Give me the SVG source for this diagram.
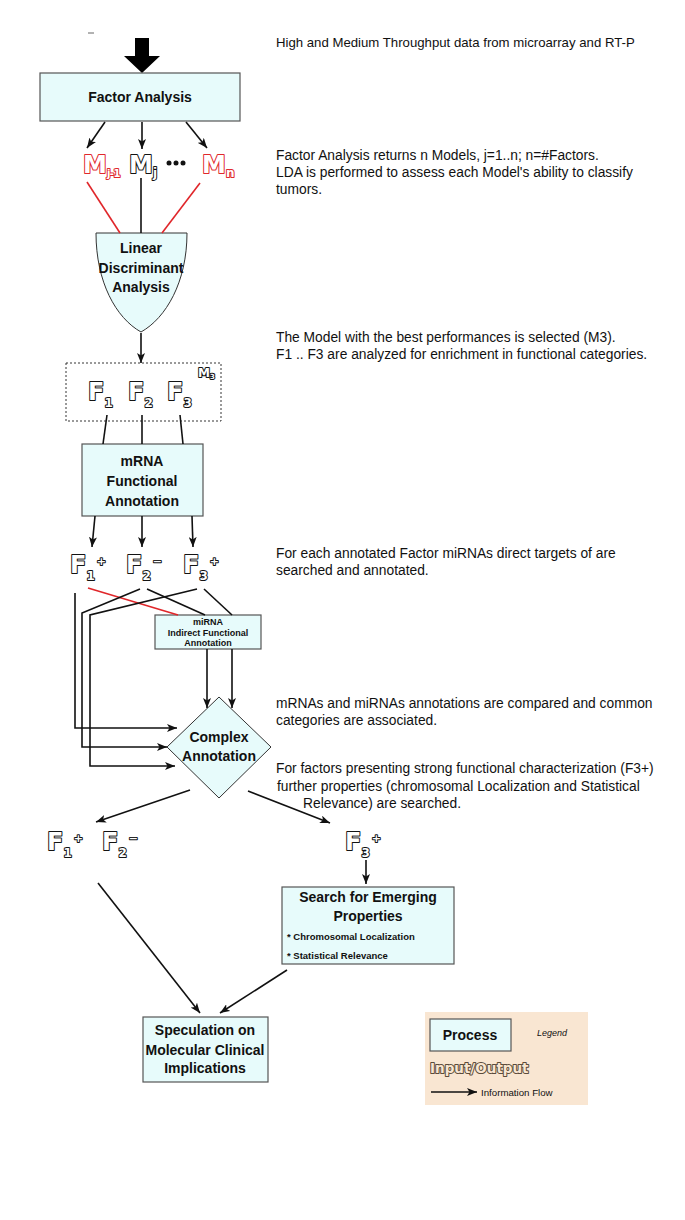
<svg xmlns="http://www.w3.org/2000/svg" width="685" height="1220" viewBox="0 0 685 1220">
<style>
.box{fill:#e7fbfb;stroke:#555;stroke-width:1.2}
.t{font-family:"Liberation Sans",Arial,sans-serif;font-weight:bold;font-size:14px;fill:#111;text-anchor:middle}
.s{font-family:"Liberation Sans",Arial,sans-serif;font-weight:bold;font-size:9px;fill:#111;text-anchor:middle}
.b{font-family:"Liberation Sans",Arial,sans-serif;font-weight:bold;font-size:9.5px;fill:#111}
.d{font-family:"Liberation Sans",Arial,sans-serif;font-size:13.8px;fill:#111}
.io{font-family:"DejaVu Sans",sans-serif;font-weight:bold;fill:#fff;stroke:#111;stroke-width:2;paint-order:stroke;stroke-linejoin:round}
.ior{font-family:"DejaVu Sans",sans-serif;font-weight:bold;fill:#fff;stroke:#e0262a;stroke-width:2;paint-order:stroke;stroke-linejoin:round}
.c{fill:none;stroke:#111;stroke-width:1.6}
.r{fill:none;stroke:#e0262a;stroke-width:1.6}
</style>
<defs>
<marker id="ah" viewBox="0 0 10 8" refX="10" refY="4" markerWidth="10" markerHeight="8" markerUnits="userSpaceOnUse" orient="auto">
<path d="M0,0 L10,4 L0,8 L2.5,4 Z" fill="#111"/>
</marker>
</defs>

<g id="notes">
<text class="d" x="276" y="47" style="font-size:13.2px">High and Medium Throughput data from microarray and RT-P</text>
<text class="d" x="276" y="160">Factor Analysis returns n Models, j=1..n; n=#Factors.</text>
<text class="d" x="276" y="177">LDA is performed to assess each Model's ability to classify</text>
<text class="d" x="276" y="194">tumors.</text>
<text class="d" x="276" y="342">The Model with the best performances is selected (M3).</text>
<text class="d" x="276" y="359">F1 .. F3 are analyzed for enrichment in functional categories.</text>
<text class="d" x="276" y="558">For each annotated Factor miRNAs direct targets of are</text>
<text class="d" x="276" y="575">searched and annotated.</text>
<text class="d" x="276" y="708">mRNAs and miRNAs annotations are compared and common</text>
<text class="d" x="276" y="725">categories are associated.</text>
<text class="d" x="276" y="773">For factors presenting strong functional characterization (F3+)</text>
<text class="d" x="277" y="791">further properties (chromosomal Localization and Statistical</text>
<text class="d" x="303" y="808">Relevance) are searched.</text>
</g>

<g id="input">
<line x1="88" y1="33" x2="94" y2="33" stroke="#666" stroke-width="1"/>
<polygon points="135,38 149,38 149,56 160,56 142,73 124,56 135,56" fill="#000"/>
</g>

<g id="factor-analysis">
<rect class="box" x="40" y="73" width="200" height="48"/>
<text class="t" x="140" y="102">Factor Analysis</text>
</g>

<g id="models" opacity="0.99">
<text class="ior" x="83" y="173" font-size="24">M<tspan font-size="10" dy="4" letter-spacing="-0.5">j-1</tspan></text>
<text class="io" x="129" y="173" font-size="24">M<tspan font-size="12" dy="4">j</tspan></text>
<circle cx="169" cy="163" r="2.5" fill="#111"/>
<circle cx="176" cy="163" r="2.5" fill="#111"/>
<circle cx="183" cy="163" r="2.5" fill="#111"/>
<text class="ior" x="202" y="173" font-size="24">M<tspan font-size="12" dy="4">n</tspan></text>
</g>

<g id="lda">
<path d="M96,233 L187,233 C187,282 166,318 141,332 C116,318 96,282 96,233 Z" fill="#e7fbfb" stroke="#333" stroke-width="1"/>
<text class="t" x="141" y="253">Linear</text>
<text class="t" x="141" y="273">Discriminant</text>
<text class="t" x="141" y="292">Analysis</text>
</g>

<g id="model-m3" opacity="0.99">
<rect x="66" y="363" width="155" height="58" fill="none" stroke="#333" stroke-width="1" stroke-dasharray="2,2"/>
<text class="io" x="198" y="377" font-size="12" stroke-width="1.4">M<tspan font-size="7" dy="2">3</tspan></text>
<text class="io" x="88" y="400" font-size="24">F<tspan font-size="12" dy="7">1</tspan></text>
<text class="io" x="128" y="400" font-size="24">F<tspan font-size="12" dy="7">2</tspan></text>
<text class="io" x="167" y="400" font-size="24">F<tspan font-size="12" dy="7">3</tspan></text>
</g>

<g id="mrna-annotation">
<rect class="box" x="82" y="444" width="121" height="72"/>
<text class="t" x="142" y="466">mRNA</text>
<text class="t" x="142" y="486">Functional</text>
<text class="t" x="142" y="506">Annotation</text>
</g>

<g id="annotated-factors" opacity="0.99">
<text class="io" x="70" y="573" font-size="24">F<tspan font-size="12" dy="7">1</tspan><tspan font-size="11" dx="2" dy="-15">+</tspan></text>
<text class="io" x="126" y="573" font-size="24">F<tspan font-size="12" dy="7">2</tspan><tspan font-size="11" dx="2" dy="-15">−</tspan></text>
<text class="io" x="183" y="573" font-size="24">F<tspan font-size="12" dy="7">3</tspan><tspan font-size="11" dx="2" dy="-15">+</tspan></text>
</g>

<g id="mirna-annotation">
<rect class="box" x="155" y="615" width="106" height="34"/>
<text class="s" x="208" y="625">miRNA</text>
<text class="s" x="208" y="636">Indirect Functional</text>
<text class="s" x="208" y="646">Annotation</text>
</g>

<g id="complex-annotation">
<polygon points="219,697 271,747 219,798 167,747" fill="#e7fbfb" stroke="#333" stroke-width="1"/>
<text class="t" x="219" y="742">Complex</text>
<text class="t" x="219" y="761">Annotation</text>
</g>

<g id="final-factors" opacity="0.99">
<text class="io" x="47" y="850" font-size="24">F<tspan font-size="12" dy="7">1</tspan><tspan font-size="11" dx="2" dy="-15">+</tspan></text>
<text class="io" x="102" y="850" font-size="24">F<tspan font-size="12" dy="7">2</tspan><tspan font-size="11" dx="2" dy="-15">−</tspan></text>
<text class="io" x="345" y="850" font-size="24">F<tspan font-size="12" dy="7">3</tspan><tspan font-size="11" dx="2" dy="-15">+</tspan></text>
</g>

<g id="search-properties">
<rect class="box" x="282" y="887" width="172" height="77"/>
<text class="t" x="368" y="902">Search for Emerging</text>
<text class="t" x="368" y="921">Properties</text>
<text class="b" x="287" y="940">* Chromosomal Localization</text>
<text class="b" x="287" y="959">* Statistical Relevance</text>
</g>

<g id="speculation">
<rect class="box" x="143" y="1017" width="125" height="65"/>
<text class="t" x="205" y="1035">Speculation on</text>
<text class="t" x="205" y="1055">Molecular Clinical</text>
<text class="t" x="205" y="1073">Implications</text>
</g>

<g id="legend">
<rect x="425" y="1012" width="163" height="93" fill="#f9e6d2"/>
<rect class="box" x="430" y="1019" width="81" height="32"/>
<text class="t" x="470" y="1040">Process</text>
<text x="552" y="1036" font-family="Liberation Sans,Arial,sans-serif" font-size="9" font-style="italic" text-anchor="middle" fill="#111">Legend</text>
<g opacity="0.99">
<text x="430" y="1073" font-family="DejaVu Sans,sans-serif" font-weight="bold" font-size="13.5" fill="#f9e6d2" stroke="#5a4a3a" stroke-width="2" paint-order="stroke" stroke-linejoin="round">Input/Output</text>
</g>
<line class="c" x1="431" y1="1092" x2="477" y2="1092" marker-end="url(#ah)"/>
<text x="481" y="1095.5" font-family="Liberation Sans,Arial,sans-serif" font-size="9.7" fill="#111">Information Flow</text>
</g>

<g id="connectors">
<line class="c" x1="105" y1="122" x2="87" y2="148" marker-end="url(#ah)"/>
<line class="c" x1="142" y1="122" x2="142" y2="149" marker-end="url(#ah)"/>
<line class="c" x1="186" y1="122" x2="207" y2="148" marker-end="url(#ah)"/>
<line class="r" x1="87" y1="182" x2="120" y2="233"/>
<line class="c" x1="141" y1="178" x2="141" y2="233" stroke-width="2"/>
<line class="r" x1="200" y1="183" x2="162" y2="233"/>
<line class="c" x1="141" y1="333" x2="141" y2="363" stroke-width="2" marker-end="url(#ah)"/>
<line class="c" x1="107" y1="415" x2="103" y2="444"/>
<line class="c" x1="142" y1="415" x2="142" y2="444"/>
<line class="c" x1="180" y1="415" x2="183" y2="444"/>
<line class="c" x1="95" y1="516" x2="92" y2="547" marker-end="url(#ah)"/>
<line class="c" x1="142" y1="516" x2="142" y2="547" marker-end="url(#ah)"/>
<line class="c" x1="192" y1="516" x2="193" y2="547" marker-end="url(#ah)"/>
<polyline class="c" points="75,593 75,728 177,728" marker-end="url(#ah)"/>
<line class="r" x1="88" y1="588" x2="178" y2="615"/>
<polyline class="c" points="140,589 82,613 82,747 167,747" marker-end="url(#ah)"/>
<line class="c" x1="147" y1="589" x2="205" y2="615"/>
<polyline class="c" points="197,589 90,615 90,766 175,766" marker-end="url(#ah)"/>
<line class="c" x1="204" y1="589" x2="232" y2="615"/>
<line class="c" x1="207" y1="649" x2="207" y2="708" marker-end="url(#ah)"/>
<line class="c" x1="232" y1="649" x2="232" y2="708" marker-end="url(#ah)"/>
<line class="c" x1="190" y1="790" x2="96" y2="822" marker-end="url(#ah)"/>
<line class="c" x1="248" y1="791" x2="330" y2="823" marker-end="url(#ah)"/>
<line class="c" x1="366" y1="860" x2="366" y2="884" marker-end="url(#ah)"/>
<line class="c" x1="98" y1="883" x2="200" y2="1013" marker-end="url(#ah)"/>
<line class="c" x1="287" y1="970" x2="220" y2="1013" marker-end="url(#ah)"/>
</g>
</svg>
